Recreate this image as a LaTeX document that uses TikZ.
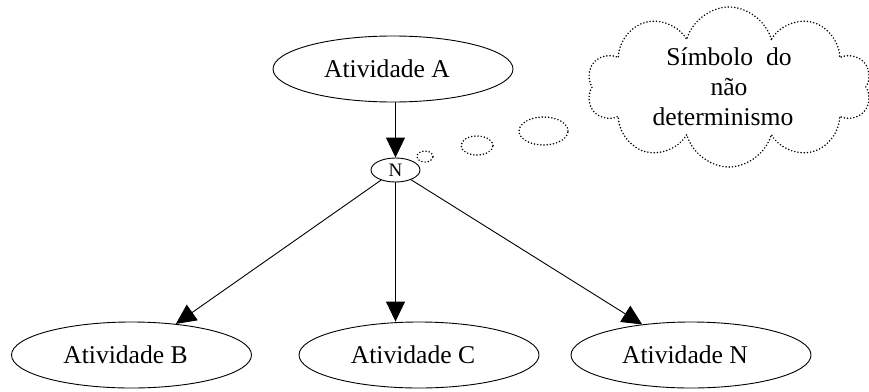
\documentclass[tikz,border=0pt]{standalone}
\usepackage{fontspec}
\setmainfont{Liberation Serif}
\usetikzlibrary{shapes.geometric,shapes.symbols,arrows.meta}
\begin{document}
\begin{tikzpicture}[x=1pt,y=-1pt,
  act/.style={draw,ellipse,line width=0.9pt,minimum width=240pt,minimum height=66pt,
    inner sep=0pt,font=\fontsize{25.6}{30}\selectfont},
  choice/.style={draw,ellipse,line width=0.9pt,minimum width=49pt,minimum height=24pt,
    inner sep=0pt,font=\fontsize{19}{20}\selectfont},
  arr/.style={line width=0.9pt,-{Triangle[length=20pt,width=19pt]}},
  dots/.style={draw,line width=1.7pt,dash pattern=on 0pt off 3.2pt,line cap=round},
  bubble/.style={dots,ellipse,inner sep=0pt}
]
\useasboundingbox (0,0) rectangle (869,391);

% activities
\node[act] (a)  at (393,69)  {Atividade A\hspace*{12pt}};
\node[act] (b)  at (131.5,355) {Atividade B\hspace*{12pt}};
\node[act] (c)  at (419,355) {Atividade C\hspace*{12pt}};
\node[act] (nn) at (691,355) {Atividade N\hspace*{12pt}};

% non-determinism choice point
\node[choice] (n) at (395.5,170) {N};

% connectors
\draw[arr] (a.south -| n) -- (n.north);
\draw[arr] (n) -- (b);
\draw[arr] (n) -- (c.north -| n);
\draw[arr] (n) -- (nn);

% thought bubbles
\node[bubble,minimum width=16pt,minimum height=11pt] (t1) at (425,156.5) {};
\node[bubble,minimum width=32pt,minimum height=19pt] (t2) at (477,145.5) {};
\node[bubble,minimum width=49pt,minimum height=28pt] (t3) at (543.5,131) {};
\node[cloud,dots,cloud puffs=10,cloud ignores aspect,minimum width=284pt,
  minimum height=160pt,inner sep=0pt,align=center,
  font=\fontsize{25.6}{30}\selectfont] (cl) at (729,87)
  {Símbolo\ \ do\\não\\determinismo\hspace*{12pt}};
\end{tikzpicture}
\end{document}
